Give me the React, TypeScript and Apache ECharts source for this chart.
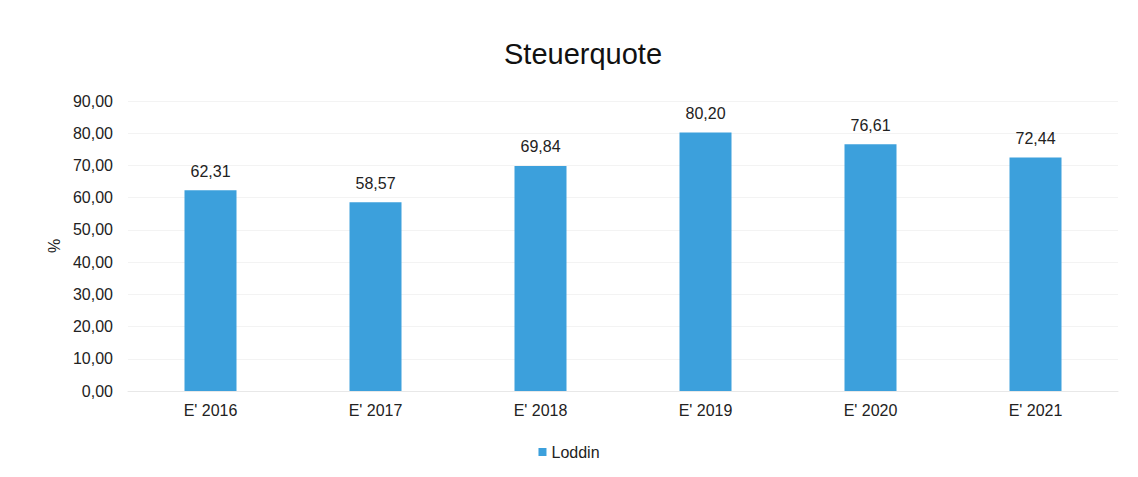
import React, { useEffect, useRef } from "react";
import * as echarts from "echarts";

const categories = ["E' 2016", "E' 2017", "E' 2018", "E' 2019", "E' 2020", "E' 2021"];
const values = [62.31, 58.57, 69.84, 80.2, 76.61, 72.44];
const seriesName = "Loddin";
const title = "Steuerquote";

const fmt = (v: number) => v.toFixed(2).replace(".", ",");
const FONT = "Liberation Sans, Arial, sans-serif";

export default function App() {
  const ref = useRef<HTMLDivElement>(null);
  useEffect(() => {
    if (!ref.current) return;
    const chart = echarts.init(ref.current, null, { renderer: "svg" });
    chart.setOption({
      animation: false,
      backgroundColor: "#ffffff",
      title: {
        text: title,
        left: 578,
        top: 34,
        textAlign: "center",
        textStyle: { fontFamily: FONT, fontSize: 29, fontWeight: "normal", color: "#111" },
      },
      legend: {
        top: 439,
        left: "center",
        itemWidth: 8,
        itemHeight: 8,
        itemGap: 3,
        icon: "rect",
        textStyle: { fontFamily: FONT, fontSize: 16, color: "#222" },
        data: [seriesName],
      },
      grid: { left: 128, right: 20, top: 101, bottom: 86, containLabel: false },
      xAxis: {
        type: "category",
        data: categories,
        axisLine: { show: true, lineStyle: { color: "#e8e8e8" } },
        axisTick: { show: false },
        axisLabel: { fontFamily: FONT, fontSize: 16, color: "#222", margin: 11 },
      },
      yAxis: {
        type: "value",
        min: 0,
        max: 90,
        interval: 10,
        name: "%",
        nameLocation: "middle",
        nameGap: 62,
        nameRotate: 90,
        nameTextStyle: { fontFamily: FONT, fontSize: 16, color: "#222" },
        axisLine: { show: false },
        axisTick: { show: false },
        axisLabel: {
          fontFamily: FONT,
          fontSize: 16,
          color: "#222",
          margin: 15,
          formatter: (v: number) => fmt(v),
        },
        splitLine: { lineStyle: { color: "#f3f3f3" } },
      },
      series: [
        {
          name: seriesName,
          type: "bar",
          data: values,
          barWidth: 52,
          itemStyle: { color: "#3ca0dc" },
          label: {
            show: true,
            position: "top",
            distance: 11,
            fontFamily: FONT,
            fontSize: 16,
            color: "#222",
            formatter: (p: any) => fmt(p.value),
          },
        },
      ],
    });
    return () => chart.dispose();
  }, []);
  return (
    <div
      ref={ref}
      style={{ position: "absolute", left: 0, top: 0, width: 1138, height: 477 }}
    />
  );
}
